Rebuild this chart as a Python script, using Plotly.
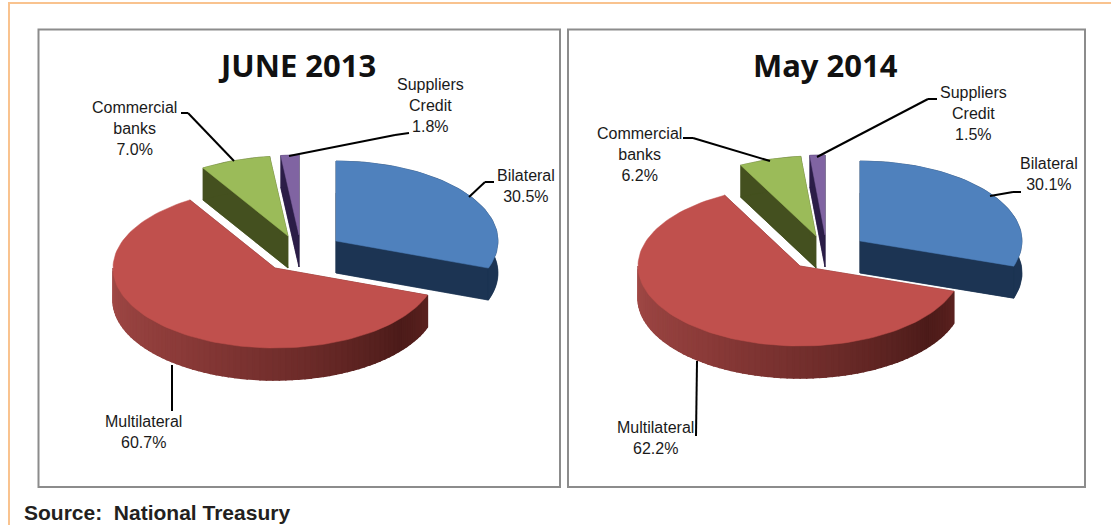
import math
import plotly.graph_objects as go

categories = ["Bilateral", "Multilateral", "Commercial banks", "Suppliers Credit"]
june_2013 = [30.5, 60.7, 7.0, 1.8]
may_2014 = [30.1, 62.2, 6.2, 1.5]
titles = ["JUNE 2013", "May 2014"]
source = "Source:  National Treasury"

# geometry of the two exploded pseudo-3D pies (screen-like axis units)
RX, RY, DEPTH = 162, 80, 32
TOP = ["#4f81bd", "#c0504d", "#9bbb59", "#8064a2"]
SIDE = ["#1c3453", "#6b2826", "#44501f", "#2b1d47"]
CENTERS = [
    [(336, 241), (275, 268), (288, 236), (299, 235)],
    [(860, 241), (800, 266), (816, 236), (825, 235)],
]
DRAW_ORDER = [0, 3, 2, 1]

fig = go.Figure()


def poly(xs, ys, color, width=0.5):
    fig.add_trace(go.Scatter(x=xs, y=ys, mode="lines", fill="toself", fillcolor=color,
                             line=dict(color=color, width=width), hoverinfo="skip", showlegend=False))


def rim(c, ang):
    return c[0] + RX * math.sin(ang), c[1] - RY * math.cos(ang)


def lerp_hex(stops, t):
    for (t0, c0), (t1, c1) in zip(stops, stops[1:]):
        if t <= t1:
            f = (t - t0) / (t1 - t0)
            rgb = [round(int(c0[i:i + 2], 16) * (1 - f) + int(c1[i:i + 2], 16) * f) for i in (1, 3, 5)]
            return "rgb({},{},{})".format(*rgb)
    return c1


RED_RIM = [(0.0, "#a34a47"), (0.35, "#8a3a38"), (0.65, "#6a2a28"), (0.88, "#4c1b19"), (1.0, "#5a211f")]


def draw_slice(idx, c, a0, a1):
    n = max(4, int((a1 - a0) / math.radians(2)))
    angs = [a0 + (a1 - a0) * k / n for k in range(n + 1)]
    pts = [rim(c, a) for a in angs]
    # lower copy of the slice
    poly([c[0]] + [p[0] for p in pts] + [c[0]],
         [c[1] + DEPTH] + [p[1] + DEPTH for p in pts] + [c[1] + DEPTH], SIDE[idx])
    # two cut faces
    for p in (pts[0], pts[-1]):
        poly([c[0], p[0], p[0], c[0], c[0]],
             [c[1], p[1], p[1] + DEPTH, c[1] + DEPTH, c[1]], SIDE[idx])
    # outer wall
    if idx == 1:
        lo, hi = max(a0, math.pi * 0.5), min(a1, math.pi * 1.5)
        m = 70
        for k in range(m):
            u0 = hi - (hi - lo) * k / m
            u1 = hi - (hi - lo) * (k + 1) / m
            p0, p1 = rim(c, u0), rim(c, u1)
            poly([p0[0], p1[0], p1[0], p0[0], p0[0]],
                 [p0[1], p1[1], p1[1] + DEPTH, p0[1] + DEPTH, p0[1]],
                 lerp_hex(RED_RIM, (k + 0.5) / m), width=1.5)
    else:
        poly([p[0] for p in pts] + [p[0] for p in reversed(pts)],
             [p[1] for p in pts] + [p[1] + DEPTH for p in reversed(pts)], SIDE[idx])
    # top face
    poly([c[0]] + [p[0] for p in pts] + [c[0]], [c[1]] + [p[1] for p in pts] + [c[1]], TOP[idx])


for values, centers in zip([june_2013, may_2014], CENTERS):
    total = sum(values)
    edges = [0.0]
    for v in values:
        edges.append(edges[-1] + v / total * 2 * math.pi)
    for i in DRAW_ORDER:
        draw_slice(i, centers[i], edges[i], edges[i + 1])

FRAME = "#8c8c8c"
ORANGE = "#f9c38f"
shapes = [
    dict(type="rect", x0=38.5, y0=29.5, x1=560, y1=487, line=dict(color=FRAME, width=2), layer="below"),
    dict(type="rect", x0=568, y0=29.5, x1=1085, y1=487, line=dict(color=FRAME, width=2), layer="below"),
    dict(type="line", x0=8, y0=3, x1=1111, y1=3, line=dict(color=ORANGE, width=2), layer="below"),
    dict(type="line", x0=9, y0=3, x1=9, y1=525, line=dict(color=ORANGE, width=2), layer="below"),
]
LEADERS = [
    [(181, 113), (188, 113), (234, 161)],
    [(409, 133), (395, 135), (289, 156)],
    [(494, 182), (485, 182), (469, 197)],
    [(172, 365), (172, 411)],
    [(683, 138), (693, 138), (770, 161)],
    [(937, 99), (928, 99), (817, 157)],
    [(1021, 192), (1013, 192), (990, 196)],
    [(697, 361), (696, 436)],
]
for pts in LEADERS:
    for (x0, y0), (x1, y1) in zip(pts, pts[1:]):
        shapes.append(dict(type="line", x0=x0, y0=y0, x1=x1, y1=y1, line=dict(color="#000000", width=2)))

LABEL_FONT = dict(family="Liberation Sans Narrow, Arial Narrow, Liberation Sans", size=16, color="#1a1a1a")
LABEL_POS = [
    [(526, 186), (143, 432), (134, 128), (430, 105)],
    [(1049, 174), (655, 438), (639, 154), (973, 113)],
]
LABEL_LINES = ["Bilateral", "Multilateral", "Commercial<br>banks", "Suppliers<br>Credit"]
annotations = []
for values, positions in zip([june_2013, may_2014], LABEL_POS):
    for txt, v, (x, y) in zip(LABEL_LINES, values, positions):
        annotations.append(dict(x=x, y=y, xref="x", yref="y", showarrow=False, align="center",
                                text=f"{txt}<br>{v:.1f}%", font=LABEL_FONT))
for t, x in zip(titles, [297, 825]):
    annotations.append(dict(x=x, y=65, xref="x", yref="y", showarrow=False, text=f"<b>{t}</b>",
                            font=dict(family="Noto Sans", size=31, color="#111111")))
annotations.append(dict(x=22, y=512, xref="x", yref="y", xanchor="left", showarrow=False,
                        text=f"<b>{source}</b>",
                        font=dict(family="Liberation Sans", size=21, color="#231f20")))

fig.update_layout(
    width=1111, height=525, margin=dict(l=0, r=0, t=0, b=0), autosize=False,
    paper_bgcolor="white", plot_bgcolor="white", showlegend=False,
    xaxis=dict(range=[0, 1111], visible=False, fixedrange=True),
    yaxis=dict(range=[525, 0], visible=False, fixedrange=True),
    shapes=shapes, annotations=annotations,
)
fig.write_html("out.html", config={"displayModeBar": False},
               post_script="document.body.style.margin='0';document.body.style.overflow='hidden';"
                           "document.querySelectorAll('.scatterlayer').forEach(function(e){e.style.filter='blur(0.7px)';});")
